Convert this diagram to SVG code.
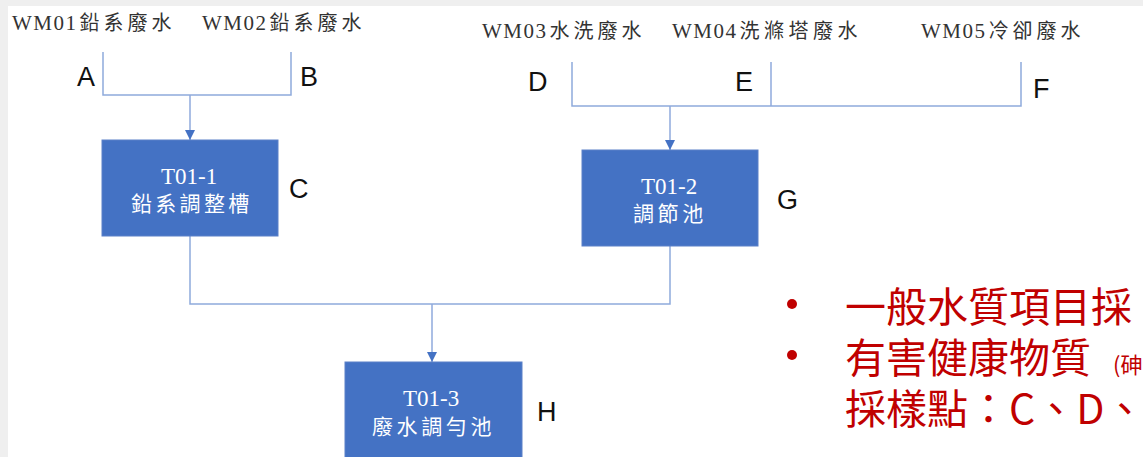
<svg xmlns="http://www.w3.org/2000/svg" width="1143" height="457" viewBox="0 0 1143 457">
<defs>
<style>
.src{font-family:"Liberation Serif","Noto Sans CJK TC",serif;font-size:21px;fill:#333;letter-spacing:1.5px}
.src .cj{font-size:20px;letter-spacing:4px}
.lbl{font-family:"Liberation Sans","Noto Sans",sans-serif;font-size:27px;fill:#111}
.box{fill:#4472c4;stroke:#5b80c8;stroke-width:1}
.bt{font-family:"Liberation Serif","Noto Sans CJK TC",serif;font-size:23px;fill:#fff}
.cjb{font-family:"Noto Sans CJK TC",sans-serif;font-size:21px;fill:#fff;letter-spacing:3.3px}
.ln{fill:none;stroke:#8faadc;stroke-width:1.5}
.red{font-family:"Noto Sans CJK TC","Noto Sans",sans-serif;fill:#c00000}
</style>
<marker id="ah" viewBox="0 0 10 10" refX="10" refY="5" markerWidth="10" markerHeight="10" markerUnits="userSpaceOnUse" orient="auto">
<path d="M0,0 L10,5 L0,10 z" fill="#4472c4"/>
</marker>
</defs>
<rect x="0" y="0" width="1143" height="457" fill="#fff"/>
<rect x="0" y="0" width="1143" height="6" fill="#efefef"/>
<rect x="0" y="0" width="8" height="457" fill="#efefef"/>

<g id="sources">
<text class="src" x="12" y="30">WM01<tspan class="cj" dx="2">鉛系廢水</tspan></text>
<text class="src" x="202" y="30">WM02<tspan class="cj" dx="2">鉛系廢水</tspan></text>
<text class="src" x="482" y="38">WM03<tspan class="cj" dx="2">水洗廢水</tspan></text>
<text class="src" x="672" y="38">WM04<tspan class="cj" dx="2" style="letter-spacing:4.5px">洗滌塔廢水</tspan></text>
<text class="src" x="921" y="38">WM05<tspan class="cj" dx="2">冷卻廢水</tspan></text>
</g>

<g id="connectors">
<polyline class="ln" points="103,52 103,95 291,95 291,52"/>
<line class="ln" x1="190" y1="95" x2="190" y2="140" marker-end="url(#ah)"/>
<polyline class="ln" points="572,62 572,106 1021,106 1021,62"/>
<line class="ln" x1="771" y1="62" x2="771" y2="106"/>
<line class="ln" x1="670" y1="106" x2="670" y2="150" marker-end="url(#ah)"/>
<polyline class="ln" points="190,236 190,304 670,304 670,246"/>
<line class="ln" x1="432" y1="304" x2="432" y2="362" marker-end="url(#ah)"/>
</g>

<g id="labels">
<text class="lbl" x="77" y="86">A</text>
<text class="lbl" x="300" y="86">B</text>
<text class="lbl" x="528" y="91">D</text>
<text class="lbl" x="735" y="91">E</text>
<text class="lbl" x="1033" y="98">F</text>
<text class="lbl" x="289" y="198">C</text>
<text class="lbl" x="777" y="209">G</text>
<text class="lbl" x="537" y="421">H</text>
</g>

<g id="node-T01-1">
<rect class="box" x="102" y="140" width="176" height="96"/>
<text class="bt" x="161" y="184">T01-1</text>
<text class="cjb" x="131" y="211">鉛系調整槽</text>
</g>
<g id="node-T01-2">
<rect class="box" x="582" y="150" width="176" height="96"/>
<text class="bt" x="641" y="194">T01-2</text>
<text class="cjb" x="633" y="221" style="letter-spacing:3.6px">調節池</text>
</g>
<g id="node-T01-3">
<rect class="box" x="345" y="362" width="177" height="100"/>
<text class="bt" x="403" y="406">T01-3</text>
<text class="cjb" x="372" y="434" style="letter-spacing:3.6px">廢水調勻池</text>
</g>

<g id="notes">
<circle cx="792" cy="304" r="5" fill="#c00000"/>
<circle cx="792" cy="355" r="5" fill="#c00000"/>
<text class="red" x="845" y="322" font-size="41">一般水質項目採</text>
<text class="red" x="845" y="373" font-size="41">有害健康物質<tspan font-size="22" dx="22">(砷</tspan></text>
<text class="red" x="845" y="424" font-size="41">採樣點：C、D、</text>
</g>
</svg>
